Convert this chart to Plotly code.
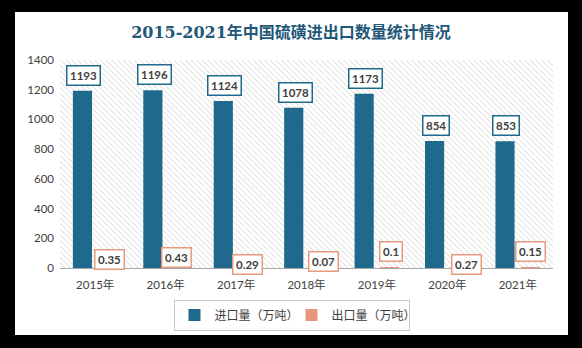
import base64
import plotly.graph_objects as go

# ---- data ----
years = ["2015年", "2016年", "2017年", "2018年", "2019年", "2020年", "2021年"]
import_vol = [1193, 1196, 1124, 1078, 1173, 854, 853]
export_vol = [0.35, 0.43, 0.29, 0.07, 0.1, 0.27, 0.15]
import_name = "进口量（万吨）"
export_name = "出口量（万吨）"
title_text = "2015-2021年中国硫磺进出口数量统计情况"

# ---- style ----
IMP_COLOR = "#1F6A8C"
EXP_COLOR = "#E9967A"
EXP_BORDER = "#E59A80"
TXT = "#404040"
export_label_xshift = [14, 11, 11, 17, 14, 19, 13]
export_label_yshift = [9, 11, 4, 7, 17, 4, 17]

fig = go.Figure()
fig.add_trace(go.Bar(x=years, y=import_vol, name=import_name,
                     marker=dict(color=IMP_COLOR, line=dict(width=0))))
fig.add_trace(go.Bar(x=years, y=export_vol, name=export_name,
                     marker=dict(color=EXP_COLOR, line=dict(width=0))))

annotations = []
for i, (c, v) in enumerate(zip(years, import_vol)):
    annotations.append(dict(
        x=c, y=v, xref="x", yref="y", text=f"<b>{v}</b>", showarrow=False,
        xanchor="center", yanchor="bottom", xshift=-11.5, yshift=5,
        font=dict(family="Lato, Noto Sans", size=11.5, color=TXT),
        bgcolor="white", bordercolor=IMP_COLOR, borderwidth=1.5, borderpad=2.5))
for i, (c, v) in enumerate(zip(years, export_vol)):
    annotations.append(dict(
        x=c, y=0, xref="x", yref="y", text=f"<b>{v:g}</b>", showarrow=False,
        xanchor="center", yanchor="middle",
        xshift=export_label_xshift[i], yshift=export_label_yshift[i],
        font=dict(family="Lato, Noto Sans", size=11.5, color=TXT),
        bgcolor="white", bordercolor=EXP_BORDER, borderwidth=1.5, borderpad=2.5))

# hatched plot-area background
svg = ('<svg xmlns="http://www.w3.org/2000/svg" width="493" height="208">'
       '<defs><pattern id="p" width="4" height="4" patternUnits="userSpaceOnUse" '
       'patternTransform="rotate(-45)">'
       '<line x1="0" y1="0" x2="0" y2="4" stroke="#d2d2d2" stroke-width="1.3"/>'
       '</pattern></defs><rect width="100%" height="100%" fill="url(#p)"/></svg>')
src = "data:image/svg+xml;base64," + base64.b64encode(svg.encode()).decode()

# black frame around the white card
L, R, T, B = 60, 553, 60, 268
def px(xp):
    return (xp - L) / (R - L)
def py(yp):
    return (B - yp) / (B - T)

shapes = [
    dict(type="rect", xref="paper", yref="paper", x0=px(-20), x1=px(15),
         y0=py(400), y1=py(-20), fillcolor="black", line=dict(width=0), layer="below"),
    dict(type="rect", xref="paper", yref="paper", x0=px(568), x1=px(600),
         y0=py(400), y1=py(-20), fillcolor="black", line=dict(width=0), layer="below"),
    dict(type="rect", xref="paper", yref="paper", x0=px(-20), x1=px(600),
         y0=py(12), y1=py(-20), fillcolor="black", line=dict(width=0), layer="below"),
    dict(type="rect", xref="paper", yref="paper", x0=px(-20), x1=px(600),
         y0=py(400), y1=py(335), fillcolor="black", line=dict(width=0), layer="below"),
]

fig.update_layout(
    width=582, height=348,
    margin=dict(l=L, r=582 - R, t=T, b=348 - B),
    paper_bgcolor="white", plot_bgcolor="white",
    title=dict(text=f"<b>{title_text}</b>", x=0.5, xref="container", xanchor="center",
               y=1 - 32 / 348, yanchor="middle",
               font=dict(family="DejaVu Serif, Noto Sans CJK SC", size=16, color="#1F5878")),
    barmode="group", bargap=0.275, bargroupgap=0.25,
    showlegend=True,
    legend=dict(orientation="h", x=px(291.5), xanchor="center", y=py(315), yanchor="middle",
                bordercolor="#C8C8C8", borderwidth=1, bgcolor="white",
                font=dict(family="Noto Sans CJK SC", size=12, color=TXT),
                itemwidth=30, entrywidth=72, entrywidthmode="pixels", tracegroupgap=0),
    xaxis=dict(showgrid=False, showline=True, linecolor="#A6A6A6", linewidth=1,
               ticks="", ticklabelstandoff=6,
               tickfont=dict(family="Lato, Noto Sans CJK SC", size=11.5, color=TXT)),
    yaxis=dict(range=[0, 1400], dtick=200, showgrid=False, zeroline=False, showline=False,
               ticks="", ticklabelstandoff=5,
               tickfont=dict(family="Lato", size=11.5, color=TXT)),
    annotations=annotations,
    shapes=shapes,
    images=[dict(source=src, xref="paper", yref="paper", x=0, y=1, sizex=1, sizey=1,
                 sizing="stretch", xanchor="left", yanchor="top", layer="below")],
)

fig.write_html("out.html")
